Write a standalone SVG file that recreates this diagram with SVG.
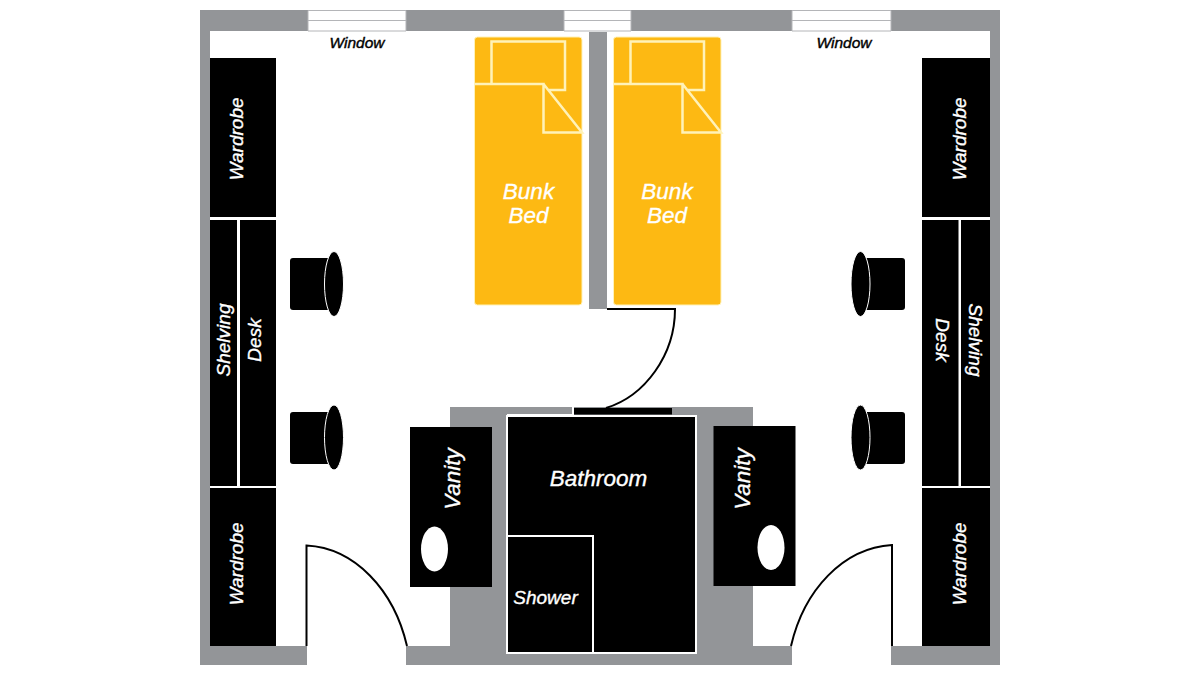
<svg xmlns="http://www.w3.org/2000/svg" width="1200" height="675" viewBox="0 0 1200 675">
<style>
.wall{fill:#939598}
.blk{fill:#000}
.win{fill:#fff;stroke:#b4b5b8;stroke-width:1}
.bed{fill:#fdb913;stroke:#fff2b8;stroke-width:1}
.bl{fill:none;stroke:#fff2b8;stroke-width:2.500}
.dr{fill:none;stroke:#000;stroke-width:2}
.wl{fill:none;stroke:#fff;stroke-width:2}
text{font-family:"Liberation Sans",Arial,sans-serif;font-style:italic;fill:#fff;stroke:#fff;stroke-width:.35;text-anchor:middle}
.t19{font-size:19px}
.t22{font-size:22.500px}
.tb{font-size:15.500px;fill:#000;stroke:#000;stroke-width:.4}
</style>
<rect width="1200" height="675" fill="#fff"/>
<g id="walls">
<path class="wall" d="M200 10H308V31H210V646H307V665H200Z"/>
<rect class="wall" x="406" y="10" width="158" height="21"/>
<rect class="wall" x="631" y="10" width="161" height="21"/>
<path class="wall" d="M891 10H1000V665H891V646H990V31H891Z"/>
<path class="wall" d="M406 665V646H450V407H753V646H792V665Z"/>
<rect class="wall" x="589" y="32" width="18" height="277"/>
</g>
<g id="windows">
<path class="win" d="M308 10.500H406V31H308ZM308 20.500H406"/>
<path class="win" d="M564 10.500H631V31H564ZM564 20.500H631"/>
<path class="win" d="M792 10.500H891V31H792ZM792 20.500H891"/>
<text class="tb" x="357" y="48">Window</text>
<text class="tb" x="844" y="48">Window</text>
</g>
<g id="connectors">
<path class="dr" d="M607 309H675C675 355 645 396 606 408"/>
<path class="dr" d="M306.500 646V545.500C355 548 394 590 407 646"/>
<path class="dr" d="M892 646V545C843 548 804 590 791 646"/>
</g>
<g id="bed-left">
<rect class="bed" x="474.500" y="37" width="107.500" height="268" rx="3"/>
<path class="bl" d="M491.500 84V41.500H565V90H549M474 84H543.500V132.500H582L543.500 84"/>
<text class="t22" x="528.500" y="199">Bunk</text>
<text class="t22" x="528.500" y="223">Bed</text>
</g>
<g id="bed-right">
<rect class="bed" x="613.500" y="37" width="107.500" height="268" rx="3"/>
<path class="bl" d="M630.500 84V41.500H704V90H688M613 84H682.500V132.500H721L682.500 84"/>
<text class="t22" x="667" y="199">Bunk</text>
<text class="t22" x="667" y="223">Bed</text>
</g>
<g id="wardrobe-tl">
<rect class="blk" x="210" y="58" width="66" height="159"/>
<text class="t19" transform="translate(243 139) rotate(-90)">Wardrobe</text>
</g>
<g id="shelving-left">
<rect class="blk" x="210" y="220" width="27" height="266"/>
<text class="t19" transform="translate(230 340) rotate(-90)">Shelving</text>
</g>
<g id="desk-left">
<rect class="blk" x="240" y="220" width="36" height="266"/>
<text class="t19" transform="translate(260.500 340) rotate(-90)">Desk</text>
</g>
<g id="wardrobe-bl">
<rect class="blk" x="210" y="488" width="66" height="158"/>
<text class="t19" transform="translate(243 564) rotate(-90)">Wardrobe</text>
</g>
<g id="wardrobe-tr">
<rect class="blk" x="922" y="58" width="68" height="159"/>
<text class="t19" transform="translate(965.500 139) rotate(-90)">Wardrobe</text>
</g>
<g id="desk-right">
<rect class="blk" x="922" y="220" width="36.500" height="266"/>
<text class="t19" transform="translate(936 340) rotate(90)">Desk</text>
</g>
<g id="shelving-right">
<rect class="blk" x="961" y="220" width="29" height="266"/>
<text class="t19" transform="translate(969 340) rotate(90)">Shelving</text>
</g>
<g id="wardrobe-br">
<rect class="blk" x="922" y="488" width="68" height="158"/>
<text class="t19" transform="translate(965.500 564) rotate(-90)">Wardrobe</text>
</g>
<g id="chair-1">
<rect class="blk" x="290" y="258" width="42" height="52" rx="3"/>
<ellipse class="blk" cx="334" cy="284" rx="9.500" ry="32.500" stroke="#fff" stroke-width="1"/>
</g>
<g id="chair-2">
<rect class="blk" x="290" y="412" width="42" height="52" rx="3"/>
<ellipse class="blk" cx="334" cy="437.500" rx="9.500" ry="32.500" stroke="#fff" stroke-width="1"/>
</g>
<g id="chair-3">
<rect class="blk" x="863" y="258" width="42" height="52" rx="3"/>
<ellipse class="blk" cx="860.500" cy="284" rx="9.500" ry="32.500" stroke="#fff" stroke-width="1"/>
</g>
<g id="chair-4">
<rect class="blk" x="863" y="412" width="42" height="52" rx="3"/>
<ellipse class="blk" cx="860.500" cy="437.500" rx="9.500" ry="32.500" stroke="#fff" stroke-width="1"/>
</g>
<g id="vanity-left">
<rect class="blk" x="410" y="427" width="82" height="160"/>
<ellipse cx="434.500" cy="549" rx="13.500" ry="22.500" fill="#fff"/>
<text class="t22" transform="translate(459.500 479) rotate(-90)">Vanity</text>
</g>
<g id="vanity-right">
<rect class="blk" x="713.500" y="426" width="82" height="160"/>
<ellipse cx="771" cy="547.500" rx="13.500" ry="22.500" fill="#fff"/>
<text class="t22" transform="translate(750 479) rotate(-90)">Vanity</text>
</g>
<g id="bathroom">
<rect class="blk" x="507" y="416" width="189" height="237" stroke="#fff" stroke-width="2"/>
<rect class="blk" x="573" y="408" width="99" height="6.500"/>
<path class="wl" d="M573 407V415H507"/>
<text class="t22" x="598.500" y="486">Bathroom</text>
</g>
<g id="shower">
<rect class="blk" x="507" y="536" width="86" height="117" stroke="#fff" stroke-width="2"/>
<text class="t19" x="545.500" y="604">Shower</text>
</g>
</svg>
